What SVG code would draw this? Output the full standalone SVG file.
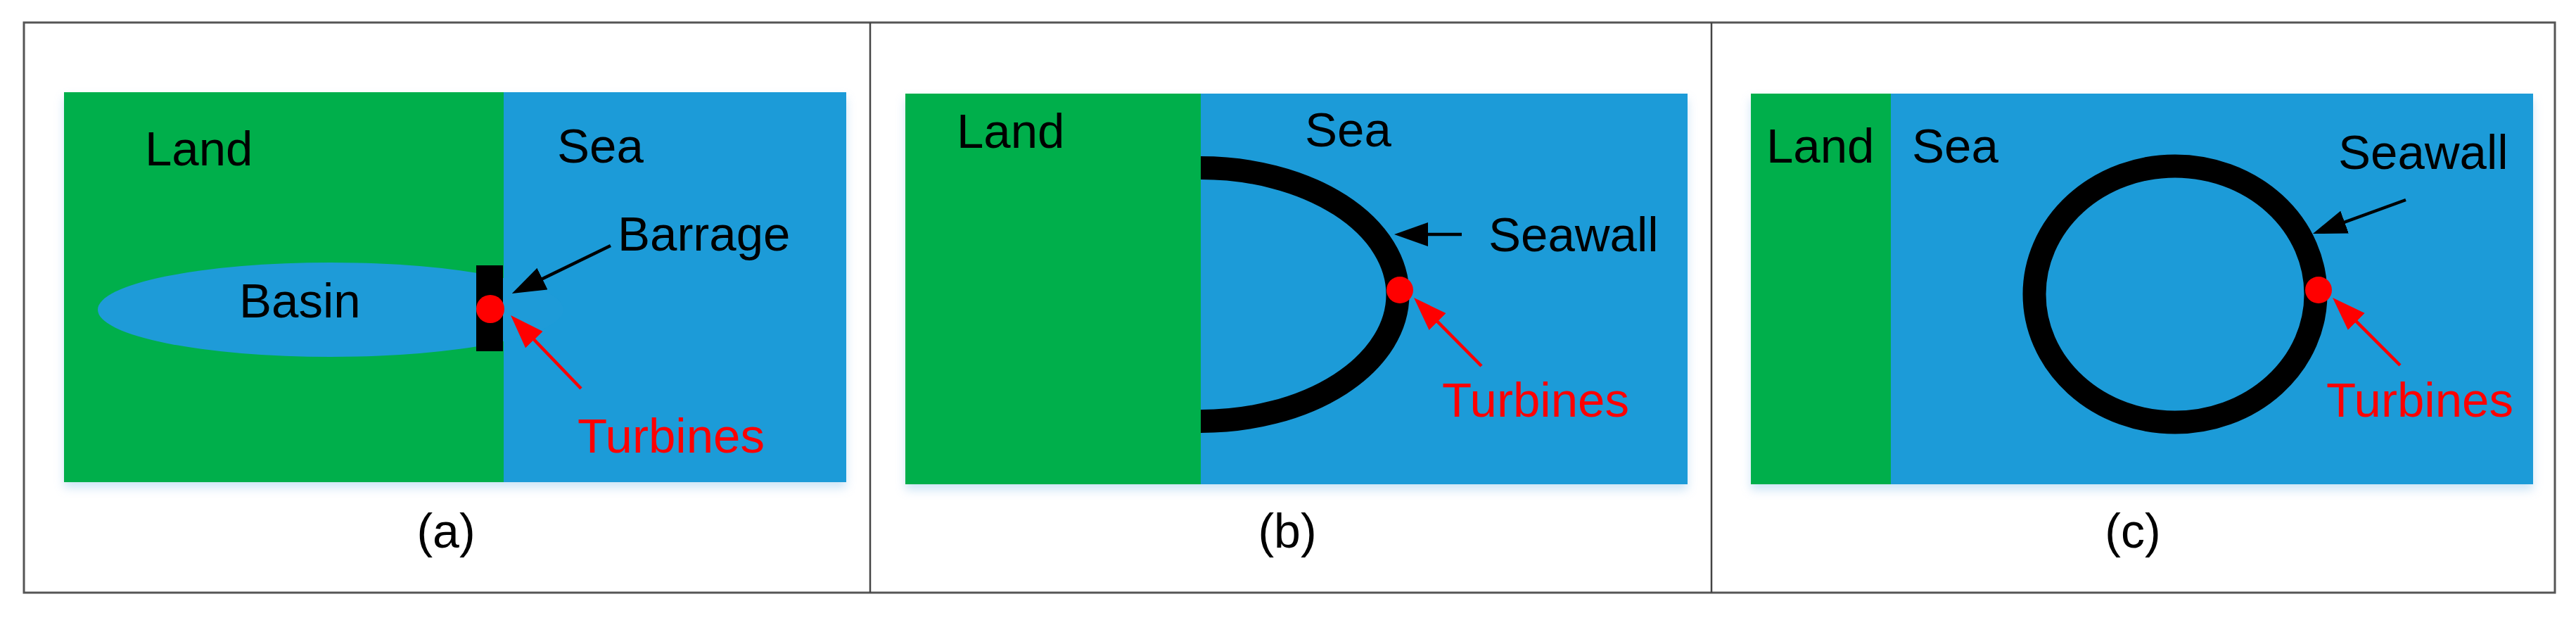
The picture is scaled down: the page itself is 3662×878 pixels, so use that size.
<svg xmlns="http://www.w3.org/2000/svg" width="3662" height="878" viewBox="0 0 3662 878">
<style>
.land{fill:#00AF4B}
.sea{fill:#1E9BD8}
.lbl{font-family:"Liberation Sans",Arial,sans-serif;font-size:69px;fill:#000}
.red{fill:#FF0000}
.cap{font-family:"Liberation Sans",Arial,sans-serif;font-size:68px;fill:#000;text-anchor:middle}
.frame{fill:none;stroke:#555;stroke-width:3}
.div{stroke:#444;stroke-width:2.5}
.wall{fill:none;stroke:#000;stroke-width:33}
.dot{fill:#FF0000}
.ab{stroke:#000;stroke-width:4.5;fill:none;marker-end:url(#hb)}
.ar{stroke:#FF0000;stroke-width:4.5;fill:none;marker-end:url(#hr)}
</style>
<defs>
<marker id="hb" markerUnits="userSpaceOnUse" markerWidth="48" markerHeight="34" refX="40" refY="17" orient="auto"><path d="M0,0 L48,17 L0,34 Z" fill="#000"/></marker>
<marker id="hr" markerUnits="userSpaceOnUse" markerWidth="48" markerHeight="34" refX="40" refY="17" orient="auto"><path d="M0,0 L48,17 L0,34 Z" fill="#FF0000"/></marker>
<filter id="sh" x="-5%" y="-5%" width="110%" height="115%"><feDropShadow dx="0" dy="8" stdDeviation="7" flood-color="#8fc3ea" flood-opacity="0.45"/></filter>
</defs>
<rect width="3662" height="878" fill="#fff"/>
<g id="frame">
<rect class="frame" x="34" y="32" width="3598" height="810"/>
<line class="div" x1="1237" y1="32" x2="1237" y2="842"/>
<line class="div" x1="2433" y1="32" x2="2433" y2="842"/>
</g>
<g id="panel-a">
<g filter="url(#sh)">
<rect class="land" x="91" y="131" width="625" height="554"/>
<rect class="sea" x="716" y="131" width="487" height="554"/>
</g>
<ellipse class="sea" cx="470" cy="440" rx="331" ry="67"/>
<rect id="barrage" x="677" y="377" width="38" height="122" fill="#000"/>
<circle class="dot" cx="697" cy="439" r="20"/>
<text class="lbl" x="206" y="235">Land</text>
<text class="lbl" x="792" y="231">Sea</text>
<text class="lbl" x="340" y="451">Basin</text>
<text class="lbl" x="878" y="356">Barrage</text>
<text class="lbl red" x="821" y="643">Turbines</text>
<text class="cap" x="634" y="778">(a)</text>
</g>
<g id="panel-b">
<g filter="url(#sh)">
<rect class="land" x="1287" y="133" width="420" height="555"/>
<rect class="sea" x="1707" y="133" width="692" height="555"/>
</g>
<path class="wall" d="M1707,238.5 A280,180 0 0 1 1707,598.5"/>
<circle class="dot" cx="1990" cy="412" r="19"/>
<text class="lbl" x="1360" y="210">Land</text>
<text class="lbl" x="1855" y="208">Sea</text>
<text class="lbl" x="2116" y="357">Seawall</text>
<text class="lbl red" x="2050" y="592">Turbines</text>
<text class="cap" x="1830" y="778">(b)</text>
</g>
<g id="panel-c">
<g filter="url(#sh)">
<rect class="land" x="2489" y="133" width="199" height="555"/>
<rect class="sea" x="2688" y="133" width="913" height="555"/>
</g>
<ellipse class="wall" cx="3092" cy="418" rx="200" ry="182"/>
<circle class="dot" cx="3296" cy="412" r="19"/>
<text class="lbl" x="2511" y="231">Land</text>
<text class="lbl" x="2718" y="231">Sea</text>
<text class="lbl" x="3324" y="240">Seawall</text>
<text class="lbl red" x="3307" y="592">Turbines</text>
<text class="cap" x="3032" y="778">(c)</text>
</g>
<g id="connectors">
<line class="ab" x1="868" y1="349" x2="735" y2="413.5"/>
<line class="ar" x1="826" y1="552" x2="731.6" y2="453.8"/>
<line class="ab" x1="2078" y1="333" x2="1990" y2="333"/>
<line class="ar" x1="2106" y1="520" x2="2015.6" y2="428.7"/>
<line class="ab" x1="3420" y1="284" x2="3295.5" y2="329.3"/>
<line class="ar" x1="3412" y1="519" x2="3321.7" y2="428.7"/>
</g>
</svg>
